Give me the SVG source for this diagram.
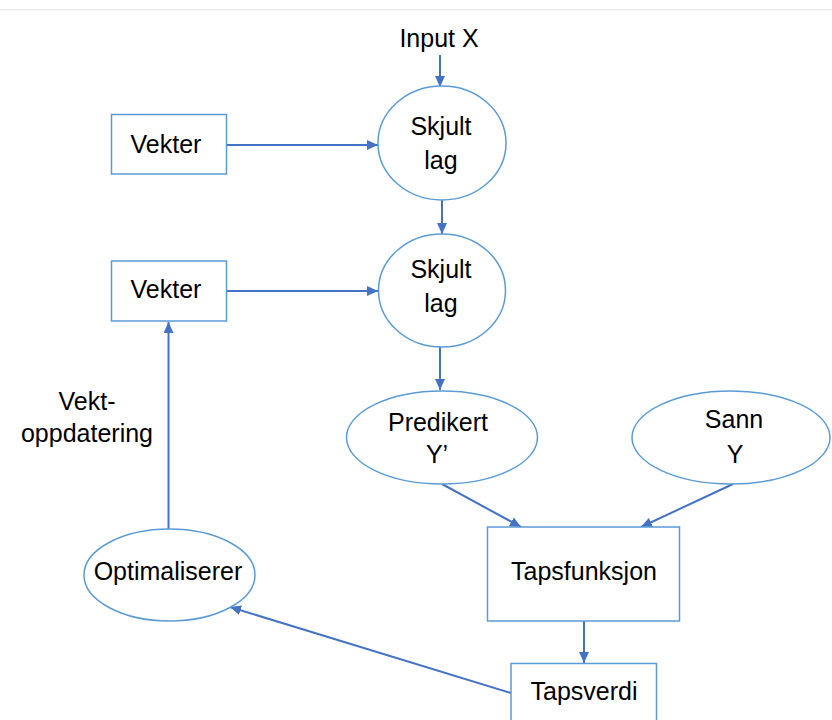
<svg xmlns="http://www.w3.org/2000/svg" width="832" height="720" viewBox="0 0 832 720">
  <style>
    .shape { fill: #ffffff; stroke: #5b9bd5; stroke-width: 1.5; }
    .label { font-family: "Liberation Sans", Arial, sans-serif; font-size: 25px; fill: #000000; text-anchor: middle; }
    .conn { fill: none; stroke: #4472c4; stroke-width: 2; marker-end: url(#arrow); }
  </style>
  <defs>
    <marker id="arrow" markerUnits="userSpaceOnUse" markerWidth="12" markerHeight="10" refX="11" refY="5" orient="auto">
      <path d="M0,0 L11,5 L0,10 Z" fill="#4472c4"/>
    </marker>
  </defs>

  <rect x="0" y="0" width="832" height="720" fill="#ffffff"/>
  <!-- page edge at the top -->
  <line x1="0" y1="9.5" x2="832" y2="9.5" stroke="#ececec" stroke-width="1"/>
  <line x1="0" y1="10.5" x2="832" y2="10.5" stroke="#f6f6f6" stroke-width="1"/>

  <g id="connectors">
    <line class="conn" x1="440" y1="55" x2="440" y2="87"/>
    <line class="conn" x1="226" y1="145" x2="378" y2="145"/>
    <line class="conn" x1="442" y1="200" x2="442" y2="234"/>
    <line class="conn" x1="226" y1="291" x2="378" y2="291"/>
    <line class="conn" x1="440" y1="347" x2="440" y2="390"/>
    <line class="conn" x1="442" y1="484" x2="521" y2="527"/>
    <line class="conn" x1="733" y1="484" x2="641" y2="527"/>
    <line class="conn" x1="584" y1="621" x2="584" y2="663"/>
    <line class="conn" x1="511" y1="693" x2="230" y2="607"/>
    <line class="conn" x1="168.5" y1="529" x2="168.5" y2="322"/>
  </g>

  <g id="input-x">
    <text class="label" x="439" y="47">Input X</text>
  </g>

  <g id="vekter-1">
    <rect class="shape" x="111.5" y="114.5" width="115" height="59.5"/>
    <text class="label" x="166" y="153">Vekter</text>
  </g>

  <g id="skjult-lag-1">
    <ellipse class="shape" cx="442" cy="143" rx="64" ry="57"/>
    <text class="label" x="441" y="135">Skjult</text>
    <text class="label" x="441" y="169">lag</text>
  </g>

  <g id="vekter-2">
    <rect class="shape" x="111.5" y="261" width="115" height="60"/>
    <text class="label" x="166" y="298">Vekter</text>
  </g>

  <g id="skjult-lag-2">
    <ellipse class="shape" cx="442" cy="290.5" rx="63.5" ry="56.5"/>
    <text class="label" x="441" y="278">Skjult</text>
    <text class="label" x="441" y="312">lag</text>
  </g>

  <g id="vekt-oppdatering">
    <text class="label" x="87" y="410">Vekt-</text>
    <text class="label" x="87" y="442">oppdatering</text>
  </g>

  <g id="predikert-y">
    <ellipse class="shape" cx="442" cy="437.5" rx="95.5" ry="46.5"/>
    <text class="label" x="438" y="431">Predikert</text>
    <text class="label" x="437" y="463">Y’</text>
  </g>

  <g id="sann-y">
    <ellipse class="shape" cx="731" cy="437.5" rx="99" ry="46.5"/>
    <text class="label" x="734" y="428">Sann</text>
    <text class="label" x="735" y="463">Y</text>
  </g>

  <g id="optimaliserer">
    <ellipse class="shape" cx="169.5" cy="575" rx="85.5" ry="46"/>
    <text class="label" x="168" y="580">Optimaliserer</text>
  </g>

  <g id="tapsfunksjon">
    <rect class="shape" x="487.5" y="527" width="192" height="94"/>
    <text class="label" x="584" y="580">Tapsfunksjon</text>
  </g>

  <g id="tapsverdi">
    <rect class="shape" x="511" y="663.5" width="145.5" height="70"/>
    <text class="label" x="584" y="700">Tapsverdi</text>
  </g>
</svg>
